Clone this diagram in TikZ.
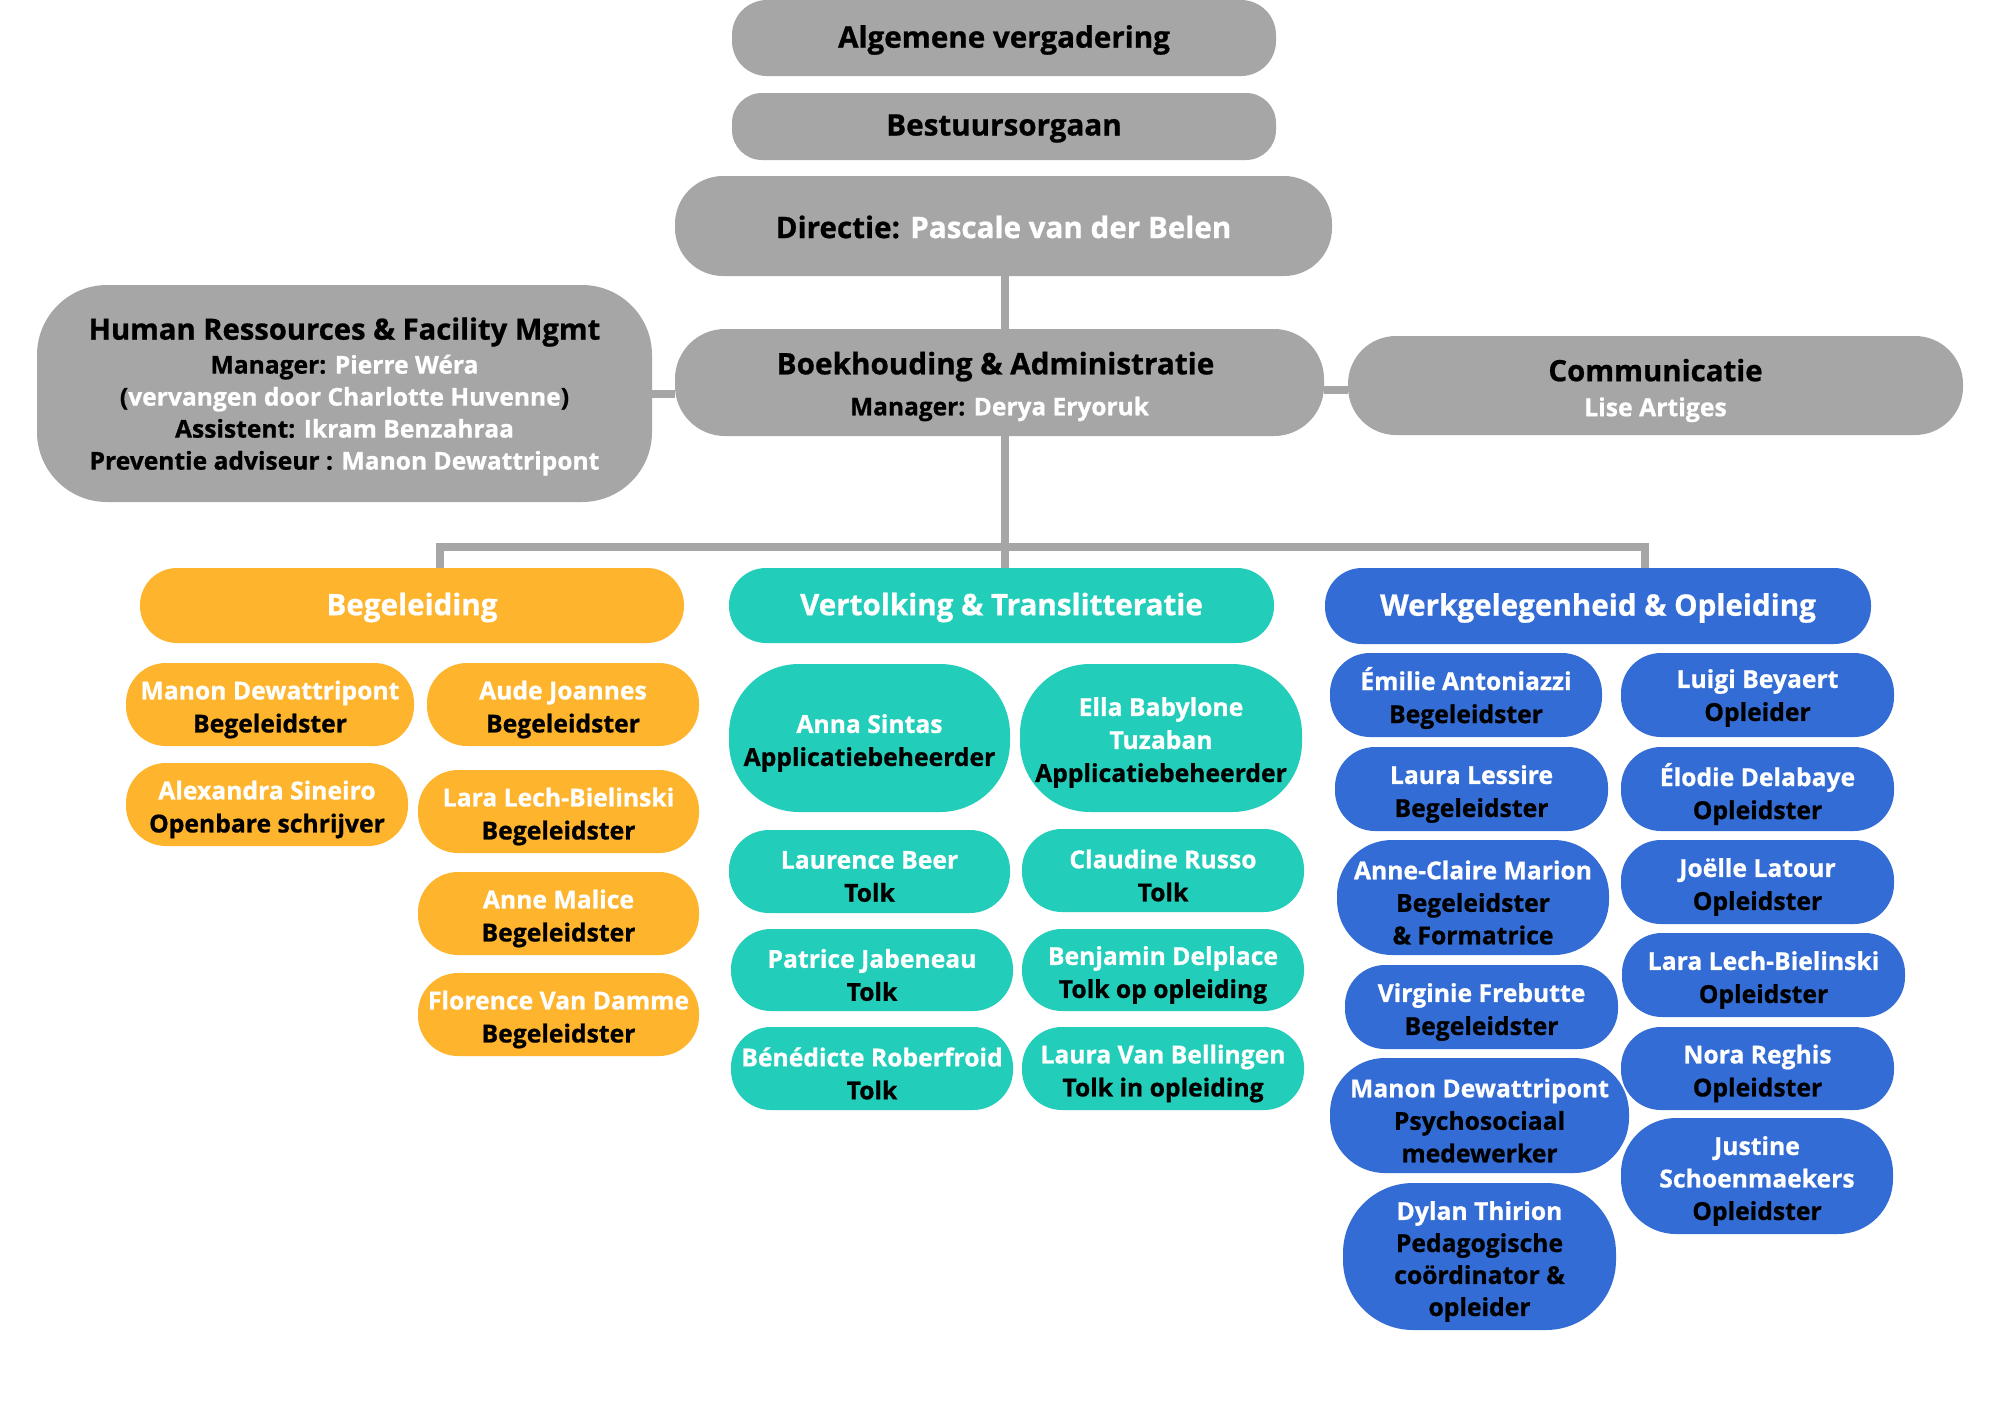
\documentclass[tikz,border=0pt]{standalone}
\usepackage{fontspec}
\setmainfont{Open Sans}[BoldFeatures={FakeBold=0.8}]
\definecolor{gr}{HTML}{A6A6A6}
\definecolor{org}{HTML}{FFB42E}
\definecolor{tea}{HTML}{22CEB9}
\definecolor{blu}{HTML}{336CD4}
\newcommand\wt[1]{\textcolor{white}{#1}}
\newcommand\tshift{-5pt}
% #1 name, #2 style, #3 x1, #4 y1, #5 x2, #6 y2, #7 radius, #8 text
\newcommand\bx[8]{%
  \node[#2, rounded corners=#7pt, minimum width={(#5-#3)*1pt}, minimum height={(#6-#4)*1pt}]
    (#1) at ({(#3+#5)/2},{(#4+#6)/2}) {};
  \node[#2, fill=none, yshift=\tshift] (#1-t) at (#1.center) {#8};}
\begin{document}
\begin{tikzpicture}[x=1pt,y=-1pt,
  ts/.code={\def\tshift{#1}},
  box/.style={rectangle, inner sep=0pt, align=center, text=black,
    font=\bfseries\fontsize{24.7}{33}\selectfont},
  gbox/.style={box, fill=gr},
  obox/.style={box, fill=org},
  tbox/.style={box, fill=tea},
  bbox/.style={box, fill=blu},
  big/.style={ts=-2pt, font=\bfseries\fontsize{29.6}{35}\selectfont},
  conn/.style={draw=gr, line width=8pt, line join=miter}]
\fill[white] (0,0) rectangle (2000,1414);
\useasboundingbox (0,0) rectangle (2000,1414);

% top gray boxes
\bx{alg}{gbox, big}{732}{0}{1276}{76}{35}{Algemene vergadering}
\bx{bes}{gbox, big}{732}{93}{1276}{160}{30}{Bestuursorgaan}
\bx{dir}{gbox, big, ts=-1pt}{675}{176}{1332}{276}{48}{Directie: \wt{Pascale van der Belen}}
\bx{hr}{gbox, ts=-3pt, font=\bfseries\fontsize{24.6}{32}\selectfont}{37}{285}{652}{502}{70}{{\fontsize{29.2}{32}\selectfont Human Ressources \& Facility Mgmt}\\[2pt]Manager: \wt{Pierre Wéra}\\(\wt{vervangen door Charlotte Huvenne})\\Assistent: \wt{Ikram Benzahraa}\\Preventie adviseur : \wt{Manon Dewattripont}}
\bx{boek}{gbox, ts=-4pt, font=\bfseries\fontsize{24.5}{41}\selectfont}{675}{329}{1324}{436}{50}{\hspace*{-8pt}{\fontsize{29.7}{41}\selectfont Boekhouding \& Administratie}\\Manager: \wt{Derya Eryoruk}}
\bx{comm}{gbox, ts=-5pt, font=\bfseries\fontsize{24.8}{35}\selectfont}{1348}{336}{1963}{435}{48}{{\fontsize{29.4}{35}\selectfont Communicatie}\\\wt{Lise Artiges}}

% column headers
\bx{beg}{obox, big, text=white}{140}{568}{684}{643}{37}{Begeleiding}
\bx{vert}{tbox, big, text=white}{729}{568}{1274}{643}{37}{Vertolking \& Translitteratie}
\bx{werk}{bbox, big, text=white}{1325}{568}{1871}{644}{37}{Werkgelegenheid \& Opleiding}

% orange members
\bx{o1}{obox}{126}{663}{414}{746}{40}{\wt{Manon Dewattripont}\\Begeleidster}
\bx{o2}{obox}{427}{663}{699}{746}{40}{\wt{Aude Joannes}\\Begeleidster}
\bx{o3}{obox}{126}{763}{408}{846}{40}{\wt{Alexandra Sineiro}\\Openbare schrijver}
\bx{o4}{obox}{418}{770}{699}{853}{40}{\wt{Lara Lech-Bielinski}\\Begeleidster}
\bx{o5}{obox}{418}{872}{699}{955}{40}{\wt{Anne Malice}\\Begeleidster}
\bx{o6}{obox}{418}{973}{699}{1056}{40}{\wt{Florence Van Damme}\\Begeleidster}

% teal members
\bx{t1}{tbox}{729}{664}{1010}{812}{70}{\wt{Anna Sintas}\\Applicatiebeheerder}
\bx{t2}{tbox, ts=-4.5pt}{1020}{664}{1302}{812}{70}{\wt{Ella Babylone}\\\wt{Tuzaban}\\Applicatiebeheerder}
\bx{t3}{tbox}{729}{830}{1010}{913}{40}{\wt{Laurence Beer}\\Tolk}
\bx{t4}{tbox}{1022}{829}{1304}{912}{40}{\wt{Claudine Russo}\\Tolk}
\bx{t5}{tbox}{731}{929}{1013}{1011}{40}{\wt{Patrice Jabeneau}\\Tolk}
\bx{t6}{tbox}{1022}{929}{1304}{1011}{40}{\wt{Benjamin Delplace}\\Tolk op opleiding}
\bx{t7}{tbox}{731}{1027}{1013}{1110}{40}{\wt{Bénédicte Roberfroid}\\Tolk}
\bx{t8}{tbox}{1022}{1027}{1304}{1110}{40}{\wt{Laura Van Bellingen}\\Tolk in opleiding}

% blue members, left
\bx{b1}{bbox, ts=-3pt}{1330}{653}{1602}{737}{40}{\wt{Émilie Antoniazzi}\\Begeleidster}
\bx{b2}{bbox}{1335}{747}{1608}{831}{40}{\wt{Laura Lessire}\\Begeleidster}
\bx{b3}{bbox, ts=-5pt, font=\bfseries\fontsize{24.7}{32.5}\selectfont}{1337}{840}{1609}{955}{55}{\wt{Anne-Claire Marion}\\Begeleidster\\\& Formatrice}
\bx{b4}{bbox}{1345}{965}{1618}{1049}{40}{\wt{Virginie Frebutte}\\Begeleidster}
\bx{b5}{bbox, ts=-5pt, font=\bfseries\fontsize{24.7}{32.5}\selectfont}{1330}{1058}{1629}{1173}{55}{\wt{Manon Dewattripont}\\Psychosociaal\\medewerker}
\bx{b6}{bbox, ts=-5pt, font=\bfseries\fontsize{24.7}{32}\selectfont}{1343}{1183}{1616}{1330}{70}{\wt{Dylan Thirion}\\Pedagogische\\coördinator \&\\opleider}
% blue members, right
\bx{c1}{bbox, ts=-3pt}{1621}{653}{1894}{737}{40}{\wt{Luigi Beyaert}\\Opleider}
\bx{c2}{bbox}{1621}{747}{1894}{831}{40}{\wt{Élodie Delabaye}\\Opleidster}
\bx{c3}{bbox}{1621}{840}{1894}{924}{40}{\wt{Joëlle Latour}\\Opleidster}
\bx{c4}{bbox}{1622}{933}{1905}{1017}{40}{\wt{Lara Lech-Bielinski}\\Opleidster}
\bx{c5}{bbox}{1621}{1027}{1894}{1110}{40}{\wt{Nora Reghis}\\Opleidster}
\bx{c6}{bbox, ts=-5pt, font=\bfseries\fontsize{24.7}{32.5}\selectfont}{1621}{1118}{1893}{1234}{55}{\wt{Justine}\\\wt{Schoenmaekers}\\Opleidster}

% connectors
\coordinate (busL) at (440,547);
\coordinate (busR) at (1645,547);
\draw[conn] (dir.south -| 1004.5,0) -- (boek.north -| 1004.5,0);
\draw[conn] (boek.south -| 1004.5,0) -- (vert.north -| 1004.5,0);
\draw[conn] (beg.north -| busL) -- (busL) -- (busR) -- (werk.north -| busR);
\draw[conn] (hr.east) -- (hr.east -| boek.west);
\draw[conn] ([yshift=-4pt]comm.west) -- ([yshift=-4pt]comm.west -| boek.east);
\end{tikzpicture}
\end{document}
